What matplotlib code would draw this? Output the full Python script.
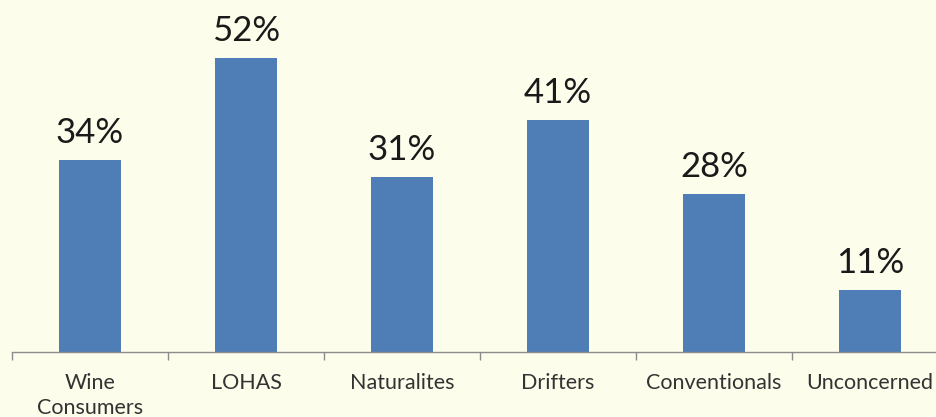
import matplotlib
matplotlib.use("Agg")
import matplotlib.pyplot as plt
import numpy as np

categories = ["Wine\nConsumers", "LOHAS", "Naturalites", "Drifters", "Conventionals", "Unconcerned"]
values = [34, 52, 31, 41, 28, 11]
value_labels = ["34%", "52%", "31%", "41%", "28%", "11%"]

bg = "#FDFDEC"
bar_color = "#4F7DB6"

fig = plt.figure(figsize=(9.36, 4.17), dpi=100, facecolor=bg)
W, H = 936, 417
ax = fig.add_axes([12 / W, 65 / H, 936 / W, 352 / H], facecolor=bg)

x = np.arange(len(categories))
ax.bar(x, values, width=0.4, color=bar_color, zorder=2)
ax.set_xlim(-0.5, len(categories) - 0.5)
ax.set_ylim(0, 352 / 5.65)

for xi, v, lab in zip(x, values, value_labels):
    ax.annotate(lab, (xi, v), xytext=(0, 8), textcoords="offset points",
                ha="center", va="bottom", fontsize=25, family="Lato", color="#1a1a1a")

for s in ["top", "right", "left"]:
    ax.spines[s].set_visible(False)
ax.spines["bottom"].set_color("#8c8c8c")
ax.spines["bottom"].set_linewidth(1.0)
ax.set_yticks([])

ax.set_xticks(x)
ax.set_xticklabels(categories, fontsize=15.5, family="Lato", color="#333333", linespacing=1.35)
ax.tick_params(axis="x", which="major", length=0, pad=15)
ax.set_xticks(np.arange(-0.5, len(categories), 1.0), minor=True)
ax.tick_params(axis="x", which="minor", length=6, color="#8c8c8c", width=1.0, direction="out")

fig.savefig("out.png", dpi=100, facecolor=bg)
